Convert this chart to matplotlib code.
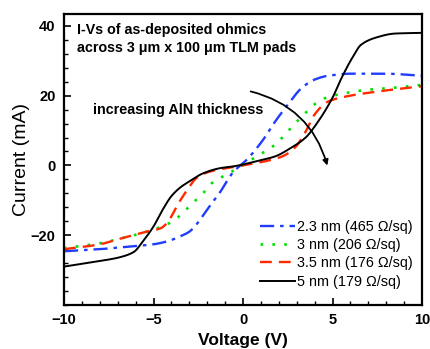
import matplotlib
matplotlib.use("Agg")
import matplotlib.pyplot as plt
import numpy as np
from matplotlib.ticker import MultipleLocator

plt.rcParams['font.family'] = ['Liberation Sans', 'DejaVu Sans']

# Data (V, mA)
v_blue = [-10, -8, -6.87, -5, -4.2, -3.5, -3.0, -2.6, -2.0, -1.3, -0.56, 0.22, 1.06, 1.8, 2.5, 3.3, 4.0, 4.75, 6.1, 7.9, 10]
i_blue = [-24.6, -24.0, -23.5, -22.6, -21.7, -20.3, -19.0, -16.9, -12.6, -7.8, -2.0, 1.7, 6.9, 12.6, 17.4, 22.3, 24.6, 25.7, 26.3, 26.3, 25.7]

v_green = [-10, -8, -6.87, -5.4, -4.25, -3.5, -3.0, -2.2, -1.7, -0.9, -0.34, 0.67, 1.8, 2.7, 3.5, 4.4, 5.3, 7.0, 8.5, 10]
i_green = [-23.7, -22.3, -21.0, -19.0, -16.9, -14.3, -11.7, -7.8, -4.9, -2.6, -0.9, 2.3, 6.0, 10.9, 15.1, 18.9, 20.3, 21.7, 22.3, 23.1]

v_red = [-10, -8, -6.87, -5.4, -4.6, -4.3, -4.0, -3.7, -3.1, -2.6, -2.0, -1.3, -0.45, 0.3, 1.06, 2.2, 2.9, 3.5, 4.0, 4.75, 5.7, 7.4, 10]
i_red = [-24.0, -22.6, -21.0, -19.0, -18.0, -16.8, -14.6, -11.7, -6.9, -3.6, -2.0, -1.1, -0.4, 0.3, 1.0, 2.6, 5.1, 9.7, 14.6, 18.3, 19.7, 21.1, 22.7]

v_black = [-10, -8, -6.87, -6.1, -5.6, -5.0, -4.5, -4.0, -3.5, -3.1, -2.2, -1.3, -0.45, 0.67, 1.8, 2.7, 3.5, 4.2, 5.0, 5.5, 6.1, 6.6, 7.4, 8.5, 10]
i_black = [-29.0, -27.4, -26.3, -24.8, -21.8, -17.5, -12.8, -8.8, -6.3, -4.9, -2.2, -0.8, -0.2, 1.1, 2.6, 5.1, 8.0, 12.6, 19.4, 25.0, 30.8, 34.6, 36.6, 37.8, 38.0]

labels = ['2.3 nm (465 Ω/sq)', '3 nm (206 Ω/sq)', '3.5 nm (176 Ω/sq)', '5 nm (179 Ω/sq)']

fig = plt.figure(figsize=(4.30, 3.49), dpi=100)
ax = fig.add_axes([64/430, 1-305/349, (422-64)/430, (305-14)/349])

def smooth(x, y):
    x = np.asarray(x, float); y = np.asarray(y, float)
    xs = np.linspace(x[0], x[-1], 600)
    h = np.diff(x); d = np.diff(y) / h
    m = np.zeros_like(y)
    m[0] = d[0]; m[-1] = d[-1]
    for k in range(1, len(x) - 1):
        if d[k-1] * d[k] <= 0:
            m[k] = 0
        else:
            w1 = 2*h[k] + h[k-1]; w2 = h[k] + 2*h[k-1]
            m[k] = (w1 + w2) / (w1/d[k-1] + w2/d[k])
    idx = np.clip(np.searchsorted(x, xs) - 1, 0, len(x) - 2)
    t = (xs - x[idx]) / h[idx]
    h00 = 2*t**3 - 3*t**2 + 1; h10 = t**3 - 2*t**2 + t
    h01 = -2*t**3 + 3*t**2; h11 = t**3 - t**2
    ys = h00*y[idx] + h10*h[idx]*m[idx] + h01*y[idx+1] + h11*h[idx]*m[idx+1]
    return xs, ys

x, y = smooth(v_blue, i_blue)
ax.plot(x, y, color='#1f3cff', lw=1.7, ls=(0, (6, 2.5, 1.5, 2.5)), label=labels[0])
x, y = smooth(v_green, i_green)
ax.plot(x, y, color='#00e000', lw=1.9, ls=(0, (1, 3.5)), label=labels[1])
x, y = smooth(v_red, i_red)
ax.plot(x, y, color='#ff2a00', lw=1.7, ls=(0, (5, 3)), label=labels[2])
x, y = smooth(v_black, i_black)
ax.plot(x, y, color='black', lw=1.4, label=labels[3])

ax.set_xlim(-10, 10)
ax.set_ylim(-40, 43.4)
ax.set_xticks([-10, -5, 0, 5, 10])
ax.set_yticks([-20, 0, 20, 40])
ax.xaxis.set_minor_locator(MultipleLocator(1))
ax.yaxis.set_minor_locator(MultipleLocator(4))
ax.tick_params(which='both', direction='in', top=False, right=False)
ax.tick_params(which='major', length=5, width=1.2, labelsize=10.5, pad=6)
ax.tick_params(which='minor', length=3, width=1.0)
for lab in ax.get_xticklabels() + ax.get_yticklabels():
    lab.set_fontweight('bold')
for s in ax.spines.values():
    s.set_linewidth(1.6)

ax.set_xlabel('Voltage (V)', fontsize=12.5, fontweight='bold', labelpad=4)
ax.set_ylabel('Current (mA)', fontsize=14, fontweight='normal', labelpad=0.5)

ax.text(-9.25, 40.8, 'I-Vs of as-deposited ohmics\nacross 3 μm x 100 μm TLM pads',
        fontsize=10.3, fontweight='bold', va='top', ha='left', linespacing=1.35)
ax.text(-8.4, 16, 'increasing AlN thickness', fontsize=10.4, fontweight='bold',
        va='center', ha='left')

ax.annotate('', xy=(4.75, -0.8), xytext=(0.28, 21.4),
            arrowprops=dict(arrowstyle='-|>', color='black', lw=1.3,
                            connectionstyle='arc3,rad=-0.3', mutation_scale=8))

leg = ax.legend(loc='lower right', bbox_to_anchor=(0.998, 0.026), frameon=False,
                fontsize=10.4, handlelength=2.4, handletextpad=0.15,
                labelspacing=0.3, borderaxespad=0.2)

fig.savefig('out.png', dpi=100)
